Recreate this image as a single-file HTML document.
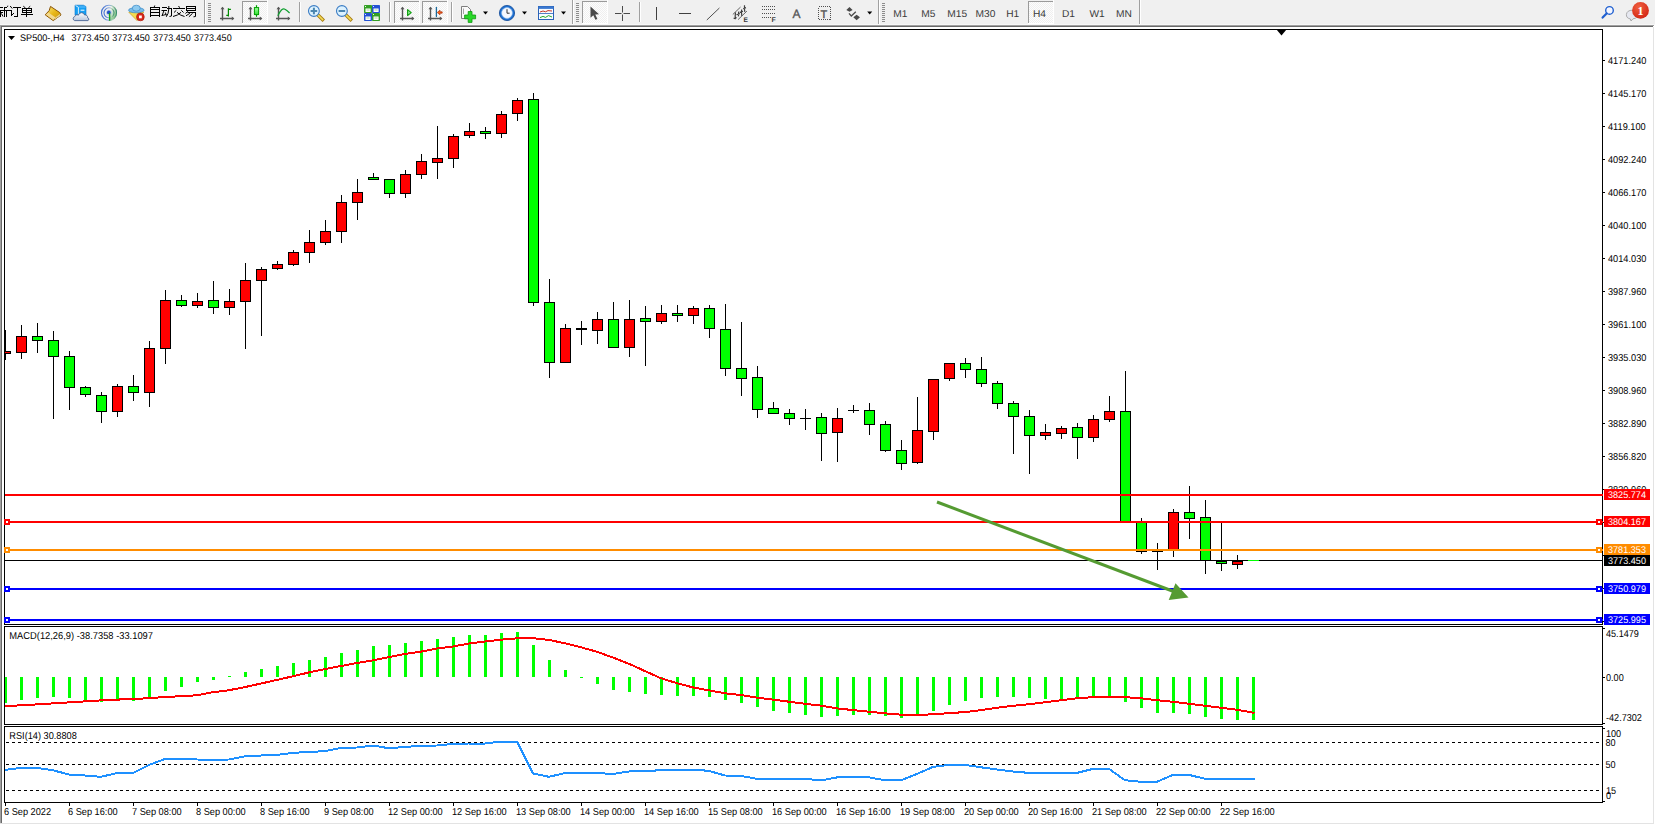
<!DOCTYPE html>
<html><head><meta charset="utf-8"><title>MT4 SP500 H4</title>
<style>
html,body{margin:0;padding:0;background:#f0f0f0;overflow:hidden;}
body{width:1655px;height:825px;font-family:"Liberation Sans",sans-serif;}
svg{display:block;} text{text-rendering:geometricPrecision;}
</style></head><body>
<svg width="1655" height="825" viewBox="0 0 1655 825">
<defs>
<pattern id="chk" width="2" height="2" patternUnits="userSpaceOnUse"><rect width="2" height="2" fill="#fdfdfd"/><rect width="1" height="1" fill="#efefef"/><rect x="1" y="1" width="1" height="1" fill="#efefef"/></pattern>
<linearGradient id="gold" x1="0" y1="0" x2="1" y2="1"><stop offset="0" stop-color="#fae888"/><stop offset="0.5" stop-color="#e8b818"/><stop offset="1" stop-color="#c89010"/></linearGradient>
<linearGradient id="lg" x1="0" y1="0" x2="0" y2="1"><stop offset="0" stop-color="#a0ffa0"/><stop offset="1" stop-color="#30e030"/></linearGradient>
<linearGradient id="cloud" x1="0" y1="0" x2="0" y2="1"><stop offset="0" stop-color="#ffffff"/><stop offset="1" stop-color="#b8c6dc"/></linearGradient>
<radialGradient id="sweep" cx="0" cy="0" r="1"><stop offset="0" stop-color="#ffffff" stop-opacity="0"/><stop offset="1" stop-color="#40b040" stop-opacity="0.6"/></radialGradient>
<linearGradient id="ring" x1="0" y1="0" x2="1" y2="0"><stop offset="0" stop-color="#3c6cd0"/><stop offset="0.5" stop-color="#8aa8e0"/><stop offset="0.75" stop-color="#a8d0b0"/><stop offset="1" stop-color="#3a8a70"/></linearGradient>
<radialGradient id="redg" cx="0.4" cy="0.3" r="0.8"><stop offset="0" stop-color="#f06040"/><stop offset="1" stop-color="#d02010"/></radialGradient>
</defs>
<rect x="0" y="0" width="1655" height="25" fill="#f0f0f0"/>
<rect x="0" y="24" width="1655" height="1" fill="#f7f7f7"/>
<g fill="none" stroke="#000" stroke-width="1" shape-rendering="geometricPrecision">
<path d="M0 7.5 H3 M0 10.5 H4 M0 12.5 H3 M0.5 11 V17 M1.5 13.5 L3 16.5 M4.5 7 V17 M4 7.5 H7 M7 6.5 L8.2 6 M4 10.5 H9 M6.5 11 V17"/>
<path d="M10.2 6 L12.2 8.5 M9 10.5 H12 M11.5 10 V16 M11.5 15.5 L14 13 M13 7.5 H21 M17.5 7.5 V17 M14 16.5 H18"/>
<path d="M23.3 6.2 L25.5 8 M30.2 6.2 L28.3 8 M22.5 8 V13 M31.5 8 V13 M22 8.5 H32 M22 10.5 H32 M22 12.5 H32 M26.5 8 V17 M21 14.5 H33"/>
<path d="M154.8 5.5 L154.2 7 M150.5 7 V17 M159.5 7 V17 M150 7.5 H160 M150 9.5 H160 M150 12.5 H160 M150 15.5 H160"/>
<path d="M162 7.5 H167 M161.5 10.5 H167 M163.8 11 L162 15.8 M161.8 15.5 L166.2 14.5 M165.3 12.5 L166.5 15.5 M167 8.5 H172 M171.5 8.5 V16 M171.5 16 L169.5 16.5 M168.8 6 V9 Q168.5 14 166.3 16.8"/>
<path d="M178.6 6 L179.6 7.8 M173 8.5 H185 M176.3 10.3 L174 12.5 M181.3 10.3 L183.5 12.5 M177 12.3 Q180 15.5 184.5 16.5 M181 12.3 Q178 15.5 173 16.5"/>
<path d="M186.5 6 V11 M195.5 6 V11 M186 6.5 H196 M186 8.5 H196 M186 10.5 H196 M188.3 11 L185.4 13.5 M187.5 12.5 H196 M195.5 12 V16.5 L193.5 16.8 M189.9 13.3 L186 15.8 M192.6 13.3 L188.9 16.8"/>
</g>
<g shape-rendering="geometricPrecision"><path d="M50.5 6.4 L59.8 12.6 L61 15 L53.2 20.6 L45.2 14.8 L49.2 10.6 Z" fill="url(#gold)" stroke="#8a5406" stroke-width="1" stroke-linejoin="round"/><path d="M45.8 14.6 L48.4 12.4 L55.6 17.6 L53.2 20" fill="#f2d890" stroke="none"/><path d="M55.6 17.8 L60.4 14.2 M54.6 19 L60.2 15.2" fill="none" stroke="#e8e0b0" stroke-width="0.8"/></g>
<g shape-rendering="geometricPrecision"><path d="M75 5.2 H83.5 L86 6.6 V15 H75 Z" fill="#16a0f4" stroke="#0c78d0" stroke-width="0.6"/><path d="M75.6 5.6 L78.4 7.2 V14.5" fill="none" stroke="#e8f6ff" stroke-width="0.9"/><path d="M79.2 7 H85.6" stroke="#7cc8ff" stroke-width="0.8"/><path d="M80.6 10.2 H84.4" stroke="#ffffff" stroke-width="1"/><path d="M74.6 20.6 A2.1 2.1 0 0 1 74.7 16.6 A2.4 2.4 0 0 1 78.4 15.2 A3.2 3.2 0 0 1 84.6 15 A2.4 2.4 0 0 1 87.6 17.8 A1.5 1.5 0 0 1 88 20.6 Z" fill="url(#cloud)" stroke="#4a6494" stroke-width="0.9" stroke-linejoin="round"/></g>
<g shape-rendering="geometricPrecision" fill="none"><path d="M109 12.8 L109 20.8 A8 8 0 0 0 117 12.8 A8 8 0 0 0 113 5.9 Z" fill="url(#sweep)" stroke="none"/><circle cx="109" cy="12.8" r="7.5" stroke="url(#ring)" stroke-width="1.1"/><circle cx="109" cy="12.8" r="5" stroke="url(#ring)" stroke-width="1.1"/><circle cx="109" cy="12.8" r="2.6" stroke="#b8cce8" stroke-width="0.9"/><circle cx="108.8" cy="12.4" r="1.9" fill="#2050c8"/><path d="M109.6 12.8 V20.8" stroke="#18a020" stroke-width="1.4"/></g>
<g shape-rendering="geometricPrecision"><path d="M128.8 12.2 L143.8 12 L137 20.6 Z" fill="#f4dc50" stroke="#c8a020" stroke-width="0.7" stroke-linejoin="round"/><ellipse cx="136.3" cy="10.2" rx="7.8" ry="2.6" fill="#78bce8" stroke="#3a8ac8" stroke-width="0.7"/><ellipse cx="136.3" cy="8.2" rx="4" ry="3" fill="#8ccaf0" stroke="#3a8ac8" stroke-width="0.7"/><circle cx="140.4" cy="16.9" r="3.9" fill="#d8281a" stroke="#a81808" stroke-width="0.6"/><rect x="139" y="15.5" width="2.8" height="2.8" fill="#fff"/></g>
<rect x="204" y="0" width="1" height="24" fill="#a0a0a0"/><rect x="205" y="0" width="1" height="24" fill="#ffffff"/>
<rect x="208" y="3" width="3" height="1" fill="#8c8c8c"/>
<rect x="208" y="5" width="3" height="1" fill="#8c8c8c"/>
<rect x="208" y="7" width="3" height="1" fill="#8c8c8c"/>
<rect x="208" y="9" width="3" height="1" fill="#8c8c8c"/>
<rect x="208" y="11" width="3" height="1" fill="#8c8c8c"/>
<rect x="208" y="13" width="3" height="1" fill="#8c8c8c"/>
<rect x="208" y="15" width="3" height="1" fill="#8c8c8c"/>
<rect x="208" y="17" width="3" height="1" fill="#8c8c8c"/>
<rect x="208" y="19" width="3" height="1" fill="#8c8c8c"/>
<rect x="208" y="21" width="3" height="1" fill="#8c8c8c"/>
<g fill="none" stroke="#555" stroke-width="1.4" shape-rendering="geometricPrecision"><path d="M222.5 7.5 V20.5 M220 18.5 H233.5"/></g><path d="M222.5 6.8 l-2 2.5 h4 z M234.3 18.5 l-2.5 -2 v4 z" fill="#555"/>
<path d="M226.3 15.4 H228.4 V8.2 M228.4 9.3 H230.9 M228.4 16.6 V15" fill="none" stroke="#008a00" stroke-width="1.2" shape-rendering="geometricPrecision"/>
<rect x="242" y="1" width="25" height="23" fill="url(#chk)"/>
<rect x="242" y="1" width="25" height="1" fill="#9a9a9a"/><rect x="242" y="1" width="1" height="22" fill="#9a9a9a"/>
<rect x="242" y="23" width="26" height="1" fill="#ffffff"/><rect x="267" y="0" width="1" height="24" fill="#ffffff"/>
<g fill="none" stroke="#555" stroke-width="1.4" shape-rendering="geometricPrecision"><path d="M250.5 7.5 V20.5 M248 18.5 H261.5"/></g><path d="M250.5 6.8 l-2 2.5 h4 z M262.3 18.5 l-2.5 -2 v4 z" fill="#555"/>
<g shape-rendering="geometricPrecision"><path d="M256.5 5.2 V16.8" stroke="#00a000" stroke-width="1.2"/><rect x="254.4" y="7.6" width="4.2" height="7" fill="url(#lg)" stroke="#00a000" stroke-width="1"/></g>
<g fill="none" stroke="#555" stroke-width="1.4" shape-rendering="geometricPrecision"><path d="M278.5 7.5 V20.5 M276 18.5 H289.5"/></g><path d="M278.5 6.8 l-2 2.5 h4 z M290.3 18.5 l-2.5 -2 v4 z" fill="#555"/>
<path d="M277.8 15.8 Q282 7 285 9.3 Q287 10.6 289.6 13" fill="none" stroke="#10a030" stroke-width="1.2" shape-rendering="geometricPrecision"/>
<rect x="299" y="2" width="1" height="20" fill="#a0a0a0"/><rect x="300" y="2" width="1" height="20" fill="#ffffff"/>
<g shape-rendering="geometricPrecision"><path d="M318 15 L322.6 19.6" stroke="#a87c10" stroke-width="3.4" stroke-linecap="square"/><path d="M318 15 L322.6 19.6" stroke="#f4dc58" stroke-width="1.6" stroke-linecap="square"/><circle cx="313.9" cy="11" r="5.4" fill="#dcf2ff" stroke="#3a7cc4" stroke-width="1.1"/><path d="M310.6 11 H317.2" stroke="#4a86b0" stroke-width="2"/><path d="M313.9 7.7 V14.3" stroke="#4a86b0" stroke-width="2"/></g>
<g shape-rendering="geometricPrecision"><path d="M346 15 L350.6 19.6" stroke="#a87c10" stroke-width="3.4" stroke-linecap="square"/><path d="M346 15 L350.6 19.6" stroke="#f4dc58" stroke-width="1.6" stroke-linecap="square"/><circle cx="341.9" cy="11" r="5.4" fill="#dcf2ff" stroke="#3a7cc4" stroke-width="1.1"/><path d="M338.6 11 H345.2" stroke="#4a86b0" stroke-width="2"/></g>
<g shape-rendering="geometricPrecision"><rect x="364" y="5" width="8" height="8" rx="0.8" fill="#34a024"/><rect x="372" y="5" width="8" height="8" rx="0.8" fill="#2452d4"/><rect x="364" y="13" width="8" height="8" rx="0.8" fill="#2452d4"/><rect x="372" y="13" width="8" height="8" rx="0.8" fill="#34a024"/><path d="M365.5 8.5 H370.6 V12 H365.5 Z M373.5 8.5 H378.6 V12 H373.5 Z M365.5 16.5 H370.6 V20 H365.5 Z M373.5 16.5 H378.6 V20 H373.5 Z" fill="#ffffff"/><path d="M366.4 10 H369.6 M374.4 10 H377.6 M366.4 18 H369.6 M374.4 18 H377.6" stroke="#9ad08a" stroke-width="0.8"/><rect x="365" y="6" width="1" height="1" fill="#e0ffe0"/><rect x="373" y="6" width="1" height="1" fill="#e0e8ff"/><rect x="365" y="14" width="1" height="1" fill="#e0e8ff"/><rect x="373" y="14" width="1" height="1" fill="#e0ffe0"/></g>
<rect x="389" y="2" width="1" height="20" fill="#a0a0a0"/><rect x="390" y="2" width="1" height="20" fill="#ffffff"/>
<rect x="394" y="1" width="25" height="23" fill="url(#chk)"/>
<rect x="394" y="1" width="25" height="1" fill="#9a9a9a"/><rect x="394" y="1" width="1" height="22" fill="#9a9a9a"/>
<rect x="394" y="23" width="26" height="1" fill="#ffffff"/><rect x="419" y="0" width="1" height="24" fill="#ffffff"/>
<g fill="none" stroke="#555" stroke-width="1.4" shape-rendering="geometricPrecision"><path d="M402.5 7.5 V20.5 M400 18.5 H413.5"/></g><path d="M402.5 6.8 l-2 2.5 h4 z M414.3 18.5 l-2.5 -2 v4 z" fill="#555"/>
<path d="M407.6 9.6 V15.6 L411.2 12.6 Z" fill="#90f090" stroke="#12a012" stroke-width="1.2" stroke-linejoin="round" shape-rendering="geometricPrecision"/>
<rect x="422" y="1" width="25" height="23" fill="url(#chk)"/>
<rect x="422" y="1" width="25" height="1" fill="#9a9a9a"/><rect x="422" y="1" width="1" height="22" fill="#9a9a9a"/>
<rect x="422" y="23" width="26" height="1" fill="#ffffff"/><rect x="447" y="0" width="1" height="24" fill="#ffffff"/>
<g fill="none" stroke="#555" stroke-width="1.4" shape-rendering="geometricPrecision"><path d="M430.5 7.5 V20.5 M428 18.5 H441.5"/></g><path d="M430.5 6.8 l-2 2.5 h4 z M442.3 18.5 l-2.5 -2 v4 z" fill="#555"/>
<g shape-rendering="geometricPrecision"><path d="M436.4 7.4 V16.6" stroke="#1a6a9a" stroke-width="1.3" stroke-linecap="round"/><path d="M437.3 12.5 L440 10.2 V11.8 H442.2 V13.2 H440 V14.8 Z" fill="#ff6414" stroke="#a02000" stroke-width="0.6" stroke-linejoin="round"/></g>
<rect x="451" y="2" width="1" height="20" fill="#a0a0a0"/><rect x="452" y="2" width="1" height="20" fill="#ffffff"/>
<g shape-rendering="geometricPrecision"><path d="M461.5 6.5 H467.5 L470.5 9.5 V18.5 H461.5 Z" fill="#fafafa" stroke="#707070" stroke-width="0.9"/><path d="M463.5 8.5 V14" stroke="#909090" stroke-width="0.8"/><path d="M468.2 11.5 H472 V15 H475.6 V18.8 H472 V22.4 H468.2 V18.8 H464.6 V15 H468.2 Z" fill="#28d828" stroke="#109810" stroke-width="0.8"/></g>
<path d="M483.0 11.5 h5 l-2.5 3 z" fill="#000"/>
<g shape-rendering="geometricPrecision"><circle cx="507" cy="13" r="7.6" fill="#1d6fd0" stroke="#124a98" stroke-width="0.8"/><circle cx="507" cy="13" r="5.4" fill="#f4f8ff" stroke="#9cc4f0" stroke-width="0.6"/><path d="M507 9.2 V13.2 H509.6" stroke="#303030" stroke-width="1" fill="none"/></g>
<path d="M522.0 11.5 h5 l-2.5 3 z" fill="#000"/>
<g shape-rendering="geometricPrecision"><rect x="538.5" y="6.5" width="15" height="13" fill="#f8fbff" stroke="#2a62b8" stroke-width="1"/><rect x="538.5" y="6.5" width="15" height="2.4" fill="#3a78d0"/><path d="M538.5 13.5 H553.5" stroke="#2a62b8" stroke-width="0.8"/><path d="M540 12 L543 11 L545.5 11.8 L548 10.6 L552 11" stroke="#c02010" stroke-width="0.9" fill="none"/><path d="M540 17.6 L543 16.4 L545.5 17.4 L548.5 15.6 L552 17" stroke="#10a010" stroke-width="0.9" fill="none"/></g>
<path d="M561.0 11.5 h5 l-2.5 3 z" fill="#000"/>
<rect x="572" y="0" width="1" height="24" fill="#a0a0a0"/><rect x="573" y="0" width="1" height="24" fill="#ffffff"/>
<rect x="576" y="3" width="3" height="1" fill="#8c8c8c"/>
<rect x="576" y="5" width="3" height="1" fill="#8c8c8c"/>
<rect x="576" y="7" width="3" height="1" fill="#8c8c8c"/>
<rect x="576" y="9" width="3" height="1" fill="#8c8c8c"/>
<rect x="576" y="11" width="3" height="1" fill="#8c8c8c"/>
<rect x="576" y="13" width="3" height="1" fill="#8c8c8c"/>
<rect x="576" y="15" width="3" height="1" fill="#8c8c8c"/>
<rect x="576" y="17" width="3" height="1" fill="#8c8c8c"/>
<rect x="576" y="19" width="3" height="1" fill="#8c8c8c"/>
<rect x="576" y="21" width="3" height="1" fill="#8c8c8c"/>
<rect x="582" y="1" width="25" height="23" fill="url(#chk)"/>
<rect x="582" y="1" width="25" height="1" fill="#9a9a9a"/><rect x="582" y="1" width="1" height="22" fill="#9a9a9a"/>
<rect x="582" y="23" width="26" height="1" fill="#ffffff"/><rect x="607" y="0" width="1" height="24" fill="#ffffff"/>
<path d="M590.5 6.5 V17.8 L593.3 15.2 L595.4 19.8 L597.4 18.9 L595.3 14.5 L599 14.3 Z" fill="#4a4a4a" shape-rendering="geometricPrecision"/>
<path d="M622.5 6 V21 M615 13.5 H630" stroke="#4a4a4a" stroke-width="1"  shape-rendering="crispEdges"/>
<rect x="621.5" y="12.5" width="2" height="2" fill="#f0f0f0"/>
<rect x="639" y="2" width="1" height="20" fill="#a0a0a0"/><rect x="640" y="2" width="1" height="20" fill="#ffffff"/>
<rect x="656" y="7" width="1" height="13" fill="#404040"/>
<rect x="679" y="13" width="12" height="1" fill="#404040"/>
<path d="M706.8 20 L719.4 8" stroke="#505050" stroke-width="1" shape-rendering="geometricPrecision"/>
<g shape-rendering="geometricPrecision" stroke="#404040" fill="none"><path d="M732.8 14.5 L740.5 7.1 M738.1 19.6 L746.9 11.1" stroke-width="0.8"/><path d="M735.3 19.3 Q735 16 735.5 12.4 M738.5 16.4 Q738.3 14 738.7 11.6 M741.8 15.9 Q741.4 12.5 741.6 9.5 M744.8 11.9 Q744.3 8.5 744.5 5.2 M733.6 18.4 L736.6 17.6 M736.5 14.6 L739.8 13.6 M739.8 12.4 L743 11.2 M743.2 8.6 L746 7.6" stroke-width="1.2"/></g>
<text x="743.6" y="21.9" font-family="Liberation Sans, sans-serif" font-size="6.6" font-weight="bold" fill="#383838">E</text>
<g fill="none" stroke="#505050" stroke-width="1" stroke-dasharray="1 1" shape-rendering="crispEdges"><path d="M762 6.5 H776 M762 9.5 H776 M762 13.5 H776 M762 17.5 H771"/></g>
<text x="771.5" y="22" font-family="Liberation Sans, sans-serif" font-size="7" font-weight="bold" fill="#404040">F</text>
<text x="792.6" y="18" font-family="Liberation Sans, sans-serif" font-size="12" fill="#555" stroke="#555" stroke-width="0.35">A</text>
<rect x="818.5" y="6.5" width="12" height="13" fill="none" stroke="#505050" stroke-width="1" stroke-dasharray="1 1" shape-rendering="crispEdges"/>
<text x="820.6" y="17.6" font-family="Liberation Sans, sans-serif" font-size="11" fill="#555" stroke="#555" stroke-width="0.4">T</text>
<g shape-rendering="geometricPrecision" fill="#4a4a4a"><path d="M846.3 10 L849.5 7 L852.6 10 L849.5 11.8 Z M853.3 17.2 L856.6 14.8 L860 17.2 L856.6 20.2 Z"/><path d="M849 13.4 L851.3 16 L855.8 11.8" fill="none" stroke="#4a4a4a" stroke-width="1.3"/></g>
<path d="M867.2 11.5 h5 l-2.5 3 z" fill="#000"/>
<rect x="878" y="0" width="1" height="24" fill="#a0a0a0"/><rect x="879" y="0" width="1" height="24" fill="#ffffff"/>
<rect x="882" y="3" width="3" height="1" fill="#8c8c8c"/>
<rect x="882" y="5" width="3" height="1" fill="#8c8c8c"/>
<rect x="882" y="7" width="3" height="1" fill="#8c8c8c"/>
<rect x="882" y="9" width="3" height="1" fill="#8c8c8c"/>
<rect x="882" y="11" width="3" height="1" fill="#8c8c8c"/>
<rect x="882" y="13" width="3" height="1" fill="#8c8c8c"/>
<rect x="882" y="15" width="3" height="1" fill="#8c8c8c"/>
<rect x="882" y="17" width="3" height="1" fill="#8c8c8c"/>
<rect x="882" y="19" width="3" height="1" fill="#8c8c8c"/>
<rect x="882" y="21" width="3" height="1" fill="#8c8c8c"/>
<g font-family="Liberation Sans, sans-serif" fill="#3a3a3a"><text x="893.2" y="17" font-size="10" textLength="14.17" lengthAdjust="spacingAndGlyphs">M1</text></g>
<g font-family="Liberation Sans, sans-serif" fill="#3a3a3a"><text x="921.3000000000001" y="17" font-size="10" textLength="14.17" lengthAdjust="spacingAndGlyphs">M5</text></g>
<g font-family="Liberation Sans, sans-serif" fill="#3a3a3a"><text x="947.3000000000001" y="17" font-size="10" textLength="19.84" lengthAdjust="spacingAndGlyphs">M15</text></g>
<g font-family="Liberation Sans, sans-serif" fill="#3a3a3a"><text x="975.5" y="17" font-size="10" textLength="19.84" lengthAdjust="spacingAndGlyphs">M30</text></g>
<g font-family="Liberation Sans, sans-serif" fill="#3a3a3a"><text x="1006.2" y="17" font-size="10" textLength="13.04" lengthAdjust="spacingAndGlyphs">H1</text></g>
<rect x="1028" y="1" width="25" height="23" fill="url(#chk)"/>
<rect x="1028" y="1" width="25" height="1" fill="#9a9a9a"/><rect x="1028" y="1" width="1" height="22" fill="#9a9a9a"/>
<rect x="1028" y="23" width="26" height="1" fill="#ffffff"/><rect x="1053" y="0" width="1" height="24" fill="#ffffff"/>
<g font-family="Liberation Sans, sans-serif" fill="#3a3a3a"><text x="1032.9" y="17" font-size="10" textLength="13.04" lengthAdjust="spacingAndGlyphs">H4</text></g>
<g font-family="Liberation Sans, sans-serif" fill="#3a3a3a"><text x="1061.9" y="17" font-size="10" textLength="13.04" lengthAdjust="spacingAndGlyphs">D1</text></g>
<g font-family="Liberation Sans, sans-serif" fill="#3a3a3a"><text x="1089.4" y="17" font-size="10" textLength="15.30" lengthAdjust="spacingAndGlyphs">W1</text></g>
<g font-family="Liberation Sans, sans-serif" fill="#3a3a3a"><text x="1116.1000000000001" y="17" font-size="10" textLength="15.86" lengthAdjust="spacingAndGlyphs">MN</text></g>
<rect x="1139" y="0" width="1" height="24" fill="#a0a0a0"/><rect x="1140" y="0" width="1" height="24" fill="#ffffff"/>
<g shape-rendering="geometricPrecision"><circle cx="1609.5" cy="10.4" r="3.8" fill="#f4f6ff" stroke="#2060d0" stroke-width="1.4"/><path d="M1606.6 13.4 L1602.6 17.6" stroke="#2060d0" stroke-width="2.2" stroke-linecap="round"/></g>
<g shape-rendering="geometricPrecision"><path d="M1631 21 L1630.4 19 Q1626 18 1626.4 14.4 Q1627 10.2 1632.5 10.2 Q1638 10.4 1638 14.6 Q1637.6 18.4 1633 18.8 Z" fill="#e6e8f0" stroke="#9a9a9a" stroke-width="0.8"/><circle cx="1640.5" cy="10.4" r="8.4" fill="url(#redg)"/></g>
<text x="1640.5" y="14.6" text-anchor="middle" font-family="Liberation Serif, serif" font-size="12" font-weight="bold" fill="#fff">1</text>
<rect x="0" y="25" width="1655" height="800" fill="#ffffff"/>
<rect x="0" y="25" width="1654" height="1" fill="#a0a0a0"/><rect x="0" y="26" width="1653" height="1" fill="#696969"/>
<rect x="0" y="25" width="1" height="799" fill="#a0a0a0"/><rect x="1" y="26" width="1" height="797" fill="#696969"/>
<rect x="1653" y="27" width="1" height="797" fill="#e3e3e3"/><rect x="0" y="823" width="1654" height="1" fill="#e3e3e3"/>
<g fill="#000" shape-rendering="crispEdges">
<rect x="4" y="29" width="1599" height="1"/><rect x="4" y="29" width="1" height="596"/><rect x="1602" y="29" width="1" height="596"/><rect x="4" y="624" width="1599" height="1"/>
<rect x="4" y="626" width="1599" height="1"/><rect x="4" y="626" width="1" height="99"/><rect x="1602" y="626" width="1" height="99"/><rect x="4" y="724" width="1599" height="1"/>
<rect x="4" y="726" width="1599" height="1"/><rect x="4" y="726" width="1" height="77"/><rect x="1602" y="726" width="1" height="77"/><rect x="4" y="802" width="1599" height="1"/>
</g>
<path d="M1276.5 29.5 H1286.5 L1281.5 35.5 Z" fill="#000"/>
<g font-family="Liberation Sans, sans-serif" font-size="9.5" fill="#000">
<rect x="1603" y="60" width="2" height="1"/><text x="1608" y="64" font-size="10.0" textLength="38.37" lengthAdjust="spacingAndGlyphs">4171.240</text>
<rect x="1603" y="93" width="2" height="1"/><text x="1608" y="97" font-size="10.0" textLength="38.37" lengthAdjust="spacingAndGlyphs">4145.170</text>
<rect x="1603" y="126" width="2" height="1"/><text x="1608" y="130" font-size="10.0" textLength="37.69" lengthAdjust="spacingAndGlyphs">4119.100</text>
<rect x="1603" y="159" width="2" height="1"/><text x="1608" y="163" font-size="10.0" textLength="38.37" lengthAdjust="spacingAndGlyphs">4092.240</text>
<rect x="1603" y="192" width="2" height="1"/><text x="1608" y="196" font-size="10.0" textLength="38.37" lengthAdjust="spacingAndGlyphs">4066.170</text>
<rect x="1603" y="225" width="2" height="1"/><text x="1608" y="229" font-size="10.0" textLength="38.37" lengthAdjust="spacingAndGlyphs">4040.100</text>
<rect x="1603" y="258" width="2" height="1"/><text x="1608" y="262" font-size="10.0" textLength="38.37" lengthAdjust="spacingAndGlyphs">4014.030</text>
<rect x="1603" y="291" width="2" height="1"/><text x="1608" y="295" font-size="10.0" textLength="38.37" lengthAdjust="spacingAndGlyphs">3987.960</text>
<rect x="1603" y="324" width="2" height="1"/><text x="1608" y="328" font-size="10.0" textLength="38.37" lengthAdjust="spacingAndGlyphs">3961.100</text>
<rect x="1603" y="357" width="2" height="1"/><text x="1608" y="361" font-size="10.0" textLength="38.37" lengthAdjust="spacingAndGlyphs">3935.030</text>
<rect x="1603" y="390" width="2" height="1"/><text x="1608" y="394" font-size="10.0" textLength="38.37" lengthAdjust="spacingAndGlyphs">3908.960</text>
<rect x="1603" y="423" width="2" height="1"/><text x="1608" y="427" font-size="10.0" textLength="38.37" lengthAdjust="spacingAndGlyphs">3882.890</text>
<rect x="1603" y="456" width="2" height="1"/><text x="1608" y="460" font-size="10.0" textLength="38.37" lengthAdjust="spacingAndGlyphs">3856.820</text>
<rect x="1603" y="489" width="2" height="1"/><text x="1608" y="493" font-size="10.0" textLength="38.37" lengthAdjust="spacingAndGlyphs">3830.960</text>
<rect x="1603" y="522" width="2" height="1"/>
<rect x="1603" y="555" width="2" height="1"/>
<rect x="1603" y="588" width="2" height="1"/>
<rect x="1603" y="621" width="2" height="1"/>
</g>
<clipPath id="mc"><rect x="5" y="30" width="1597" height="594"/></clipPath>
<g clip-path="url(#mc)" shape-rendering="crispEdges" fill="#000">
<rect x="5" y="330" width="1" height="30"/>
<rect x="0" y="351" width="11" height="3"/>
<rect x="1" y="352" width="9" height="1" fill="#ff0000"/>
<rect x="21" y="325" width="1" height="34"/>
<rect x="16" y="336" width="11" height="17"/>
<rect x="17" y="337" width="9" height="15" fill="#ff0000"/>
<rect x="37" y="323" width="1" height="30"/>
<rect x="32" y="336" width="11" height="5"/>
<rect x="33" y="337" width="9" height="3" fill="#00ff00"/>
<rect x="53" y="331" width="1" height="88"/>
<rect x="48" y="340" width="11" height="17"/>
<rect x="49" y="341" width="9" height="15" fill="#00ff00"/>
<rect x="69" y="351" width="1" height="59"/>
<rect x="64" y="356" width="11" height="32"/>
<rect x="65" y="357" width="9" height="30" fill="#00ff00"/>
<rect x="85" y="386" width="1" height="11"/>
<rect x="80" y="387" width="11" height="8"/>
<rect x="81" y="388" width="9" height="6" fill="#00ff00"/>
<rect x="101" y="392" width="1" height="31"/>
<rect x="96" y="395" width="11" height="17"/>
<rect x="97" y="396" width="9" height="15" fill="#00ff00"/>
<rect x="117" y="384" width="1" height="33"/>
<rect x="112" y="386" width="11" height="26"/>
<rect x="113" y="387" width="9" height="24" fill="#ff0000"/>
<rect x="133" y="375" width="1" height="26"/>
<rect x="128" y="386" width="11" height="7"/>
<rect x="129" y="387" width="9" height="5" fill="#00ff00"/>
<rect x="149" y="341" width="1" height="66"/>
<rect x="144" y="348" width="11" height="45"/>
<rect x="145" y="349" width="9" height="43" fill="#ff0000"/>
<rect x="165" y="290" width="1" height="74"/>
<rect x="160" y="300" width="11" height="49"/>
<rect x="161" y="301" width="9" height="47" fill="#ff0000"/>
<rect x="181" y="295" width="1" height="12"/>
<rect x="176" y="300" width="11" height="6"/>
<rect x="177" y="301" width="9" height="4" fill="#00ff00"/>
<rect x="197" y="293" width="1" height="15"/>
<rect x="192" y="301" width="11" height="5"/>
<rect x="193" y="302" width="9" height="3" fill="#ff0000"/>
<rect x="213" y="281" width="1" height="33"/>
<rect x="208" y="300" width="11" height="8"/>
<rect x="209" y="301" width="9" height="6" fill="#00ff00"/>
<rect x="229" y="289" width="1" height="26"/>
<rect x="224" y="301" width="11" height="7"/>
<rect x="225" y="302" width="9" height="5" fill="#ff0000"/>
<rect x="245" y="263" width="1" height="86"/>
<rect x="240" y="280" width="11" height="22"/>
<rect x="241" y="281" width="9" height="20" fill="#ff0000"/>
<rect x="261" y="267" width="1" height="69"/>
<rect x="256" y="269" width="11" height="12"/>
<rect x="257" y="270" width="9" height="10" fill="#ff0000"/>
<rect x="277" y="261" width="1" height="9"/>
<rect x="272" y="264" width="11" height="5"/>
<rect x="273" y="265" width="9" height="3" fill="#ff0000"/>
<rect x="293" y="250" width="1" height="16"/>
<rect x="288" y="252" width="11" height="13"/>
<rect x="289" y="253" width="9" height="11" fill="#ff0000"/>
<rect x="309" y="230" width="1" height="33"/>
<rect x="304" y="242" width="11" height="11"/>
<rect x="305" y="243" width="9" height="9" fill="#ff0000"/>
<rect x="325" y="220" width="1" height="25"/>
<rect x="320" y="231" width="11" height="12"/>
<rect x="321" y="232" width="9" height="10" fill="#ff0000"/>
<rect x="341" y="195" width="1" height="48"/>
<rect x="336" y="202" width="11" height="30"/>
<rect x="337" y="203" width="9" height="28" fill="#ff0000"/>
<rect x="357" y="179" width="1" height="41"/>
<rect x="352" y="192" width="11" height="11"/>
<rect x="353" y="193" width="9" height="9" fill="#ff0000"/>
<rect x="373" y="173" width="1" height="7"/>
<rect x="368" y="177" width="11" height="3"/>
<rect x="369" y="178" width="9" height="1" fill="#00ff00"/>
<rect x="389" y="179" width="1" height="19"/>
<rect x="384" y="179" width="11" height="15"/>
<rect x="385" y="180" width="9" height="13" fill="#00ff00"/>
<rect x="405" y="170" width="1" height="28"/>
<rect x="400" y="174" width="11" height="20"/>
<rect x="401" y="175" width="9" height="18" fill="#ff0000"/>
<rect x="421" y="154" width="1" height="25"/>
<rect x="416" y="161" width="11" height="14"/>
<rect x="417" y="162" width="9" height="12" fill="#ff0000"/>
<rect x="437" y="126" width="1" height="53"/>
<rect x="432" y="158" width="11" height="5"/>
<rect x="433" y="159" width="9" height="3" fill="#ff0000"/>
<rect x="453" y="134" width="1" height="34"/>
<rect x="448" y="136" width="11" height="23"/>
<rect x="449" y="137" width="9" height="21" fill="#ff0000"/>
<rect x="469" y="123" width="1" height="15"/>
<rect x="464" y="131" width="11" height="5"/>
<rect x="465" y="132" width="9" height="3" fill="#ff0000"/>
<rect x="485" y="127" width="1" height="12"/>
<rect x="480" y="131" width="11" height="3"/>
<rect x="481" y="132" width="9" height="1" fill="#00ff00"/>
<rect x="501" y="111" width="1" height="27"/>
<rect x="496" y="114" width="11" height="20"/>
<rect x="497" y="115" width="9" height="18" fill="#ff0000"/>
<rect x="517" y="98" width="1" height="23"/>
<rect x="512" y="100" width="11" height="14"/>
<rect x="513" y="101" width="9" height="12" fill="#ff0000"/>
<rect x="533" y="93" width="1" height="213"/>
<rect x="528" y="99" width="11" height="204"/>
<rect x="529" y="100" width="9" height="202" fill="#00ff00"/>
<rect x="549" y="279" width="1" height="99"/>
<rect x="544" y="302" width="11" height="61"/>
<rect x="545" y="303" width="9" height="59" fill="#00ff00"/>
<rect x="565" y="324" width="1" height="39"/>
<rect x="560" y="328" width="11" height="35"/>
<rect x="561" y="329" width="9" height="33" fill="#ff0000"/>
<rect x="581" y="321" width="1" height="24"/>
<rect x="576" y="328" width="11" height="2"/>
<rect x="597" y="312" width="1" height="32"/>
<rect x="592" y="319" width="11" height="12"/>
<rect x="593" y="320" width="9" height="10" fill="#ff0000"/>
<rect x="613" y="302" width="1" height="46"/>
<rect x="608" y="319" width="11" height="29"/>
<rect x="609" y="320" width="9" height="27" fill="#00ff00"/>
<rect x="629" y="300" width="1" height="57"/>
<rect x="624" y="319" width="11" height="29"/>
<rect x="625" y="320" width="9" height="27" fill="#ff0000"/>
<rect x="645" y="306" width="1" height="60"/>
<rect x="640" y="318" width="11" height="4"/>
<rect x="641" y="319" width="9" height="2" fill="#00ff00"/>
<rect x="661" y="305" width="1" height="19"/>
<rect x="656" y="313" width="11" height="9"/>
<rect x="657" y="314" width="9" height="7" fill="#ff0000"/>
<rect x="677" y="305" width="1" height="17"/>
<rect x="672" y="313" width="11" height="3"/>
<rect x="673" y="314" width="9" height="1" fill="#00ff00"/>
<rect x="693" y="306" width="1" height="18"/>
<rect x="688" y="308" width="11" height="8"/>
<rect x="689" y="309" width="9" height="6" fill="#ff0000"/>
<rect x="709" y="305" width="1" height="33"/>
<rect x="704" y="308" width="11" height="21"/>
<rect x="705" y="309" width="9" height="19" fill="#00ff00"/>
<rect x="725" y="304" width="1" height="72"/>
<rect x="720" y="329" width="11" height="40"/>
<rect x="721" y="330" width="9" height="38" fill="#00ff00"/>
<rect x="741" y="322" width="1" height="74"/>
<rect x="736" y="368" width="11" height="11"/>
<rect x="737" y="369" width="9" height="9" fill="#00ff00"/>
<rect x="757" y="366" width="1" height="52"/>
<rect x="752" y="377" width="11" height="33"/>
<rect x="753" y="378" width="9" height="31" fill="#00ff00"/>
<rect x="773" y="402" width="1" height="12"/>
<rect x="768" y="408" width="11" height="6"/>
<rect x="769" y="409" width="9" height="4" fill="#00ff00"/>
<rect x="789" y="409" width="1" height="16"/>
<rect x="784" y="413" width="11" height="6"/>
<rect x="785" y="414" width="9" height="4" fill="#00ff00"/>
<rect x="805" y="409" width="1" height="21"/>
<rect x="800" y="418" width="11" height="1"/>
<rect x="821" y="413" width="1" height="48"/>
<rect x="816" y="417" width="11" height="17"/>
<rect x="817" y="418" width="9" height="15" fill="#00ff00"/>
<rect x="837" y="408" width="1" height="54"/>
<rect x="832" y="418" width="11" height="15"/>
<rect x="833" y="419" width="9" height="13" fill="#ff0000"/>
<rect x="853" y="405" width="1" height="8"/>
<rect x="848" y="410" width="11" height="1"/>
<rect x="869" y="403" width="1" height="32"/>
<rect x="864" y="410" width="11" height="15"/>
<rect x="865" y="411" width="9" height="13" fill="#00ff00"/>
<rect x="885" y="421" width="1" height="31"/>
<rect x="880" y="424" width="11" height="27"/>
<rect x="881" y="425" width="9" height="25" fill="#00ff00"/>
<rect x="901" y="440" width="1" height="30"/>
<rect x="896" y="450" width="11" height="14"/>
<rect x="897" y="451" width="9" height="12" fill="#00ff00"/>
<rect x="917" y="397" width="1" height="67"/>
<rect x="912" y="430" width="11" height="33"/>
<rect x="913" y="431" width="9" height="31" fill="#ff0000"/>
<rect x="933" y="379" width="1" height="61"/>
<rect x="928" y="379" width="11" height="53"/>
<rect x="929" y="380" width="9" height="51" fill="#ff0000"/>
<rect x="949" y="363" width="1" height="18"/>
<rect x="944" y="363" width="11" height="16"/>
<rect x="945" y="364" width="9" height="14" fill="#ff0000"/>
<rect x="965" y="358" width="1" height="20"/>
<rect x="960" y="363" width="11" height="7"/>
<rect x="961" y="364" width="9" height="5" fill="#00ff00"/>
<rect x="981" y="357" width="1" height="30"/>
<rect x="976" y="369" width="11" height="15"/>
<rect x="977" y="370" width="9" height="13" fill="#00ff00"/>
<rect x="997" y="381" width="1" height="28"/>
<rect x="992" y="383" width="11" height="21"/>
<rect x="993" y="384" width="9" height="19" fill="#00ff00"/>
<rect x="1013" y="401" width="1" height="53"/>
<rect x="1008" y="403" width="11" height="14"/>
<rect x="1009" y="404" width="9" height="12" fill="#00ff00"/>
<rect x="1029" y="410" width="1" height="64"/>
<rect x="1024" y="416" width="11" height="20"/>
<rect x="1025" y="417" width="9" height="18" fill="#00ff00"/>
<rect x="1045" y="424" width="1" height="16"/>
<rect x="1040" y="432" width="11" height="4"/>
<rect x="1041" y="433" width="9" height="2" fill="#ff0000"/>
<rect x="1061" y="426" width="1" height="13"/>
<rect x="1056" y="428" width="11" height="6"/>
<rect x="1057" y="429" width="9" height="4" fill="#ff0000"/>
<rect x="1077" y="423" width="1" height="36"/>
<rect x="1072" y="427" width="11" height="11"/>
<rect x="1073" y="428" width="9" height="9" fill="#00ff00"/>
<rect x="1093" y="415" width="1" height="27"/>
<rect x="1088" y="419" width="11" height="19"/>
<rect x="1089" y="420" width="9" height="17" fill="#ff0000"/>
<rect x="1109" y="396" width="1" height="26"/>
<rect x="1104" y="411" width="11" height="9"/>
<rect x="1105" y="412" width="9" height="7" fill="#ff0000"/>
<rect x="1125" y="371" width="1" height="151"/>
<rect x="1120" y="411" width="11" height="111"/>
<rect x="1121" y="412" width="9" height="109" fill="#00ff00"/>
<rect x="1141" y="518" width="1" height="36"/>
<rect x="1136" y="521" width="11" height="31"/>
<rect x="1137" y="522" width="9" height="29" fill="#00ff00"/>
<rect x="1157" y="543" width="1" height="27"/>
<rect x="1152" y="550" width="11" height="2"/>
<rect x="1173" y="509" width="1" height="48"/>
<rect x="1168" y="512" width="11" height="38"/>
<rect x="1169" y="513" width="9" height="36" fill="#ff0000"/>
<rect x="1189" y="486" width="1" height="53"/>
<rect x="1184" y="512" width="11" height="7"/>
<rect x="1185" y="513" width="9" height="5" fill="#00ff00"/>
<rect x="1205" y="500" width="1" height="74"/>
<rect x="1200" y="517" width="11" height="44"/>
<rect x="1201" y="518" width="9" height="42" fill="#00ff00"/>
<rect x="1221" y="523" width="1" height="48"/>
<rect x="1216" y="561" width="11" height="3"/>
<rect x="1217" y="562" width="9" height="1" fill="#00ff00"/>
<rect x="1237" y="555" width="1" height="14"/>
<rect x="1232" y="561" width="11" height="4"/>
<rect x="1233" y="562" width="9" height="2" fill="#ff0000"/>
<rect x="1248" y="560" width="11" height="1" fill="#00ff00"/>
</g>
<g shape-rendering="crispEdges">
<rect x="5" y="494" width="1598" height="2" fill="#ff0000"/>
<rect x="5" y="521" width="1598" height="2" fill="#ff0000"/>
<rect x="5" y="549" width="1598" height="2" fill="#ff8c00"/>
<rect x="5" y="560" width="1243" height="1" fill="#000"/><rect x="1259" y="560" width="343" height="1" fill="#000"/>
<rect x="5" y="588" width="1598" height="2" fill="#0000ff"/>
<rect x="5" y="619" width="1598" height="2" fill="#0000ff"/>
<rect x="4" y="519" width="6" height="6" fill="#ff0000"/><rect x="6" y="521" width="2" height="2" fill="#fff"/>
<rect x="1596" y="519" width="6" height="6" fill="#ff0000"/><rect x="1598" y="521" width="2" height="2" fill="#fff"/>
<rect x="4" y="547" width="6" height="6" fill="#ff8c00"/><rect x="6" y="549" width="2" height="2" fill="#fff"/>
<rect x="1596" y="547" width="6" height="6" fill="#ff8c00"/><rect x="1598" y="549" width="2" height="2" fill="#fff"/>
<rect x="4" y="586" width="6" height="6" fill="#0000ff"/><rect x="6" y="588" width="2" height="2" fill="#fff"/>
<rect x="1596" y="586" width="6" height="6" fill="#0000ff"/><rect x="1598" y="588" width="2" height="2" fill="#fff"/>
<rect x="4" y="617" width="6" height="6" fill="#0000ff"/><rect x="6" y="619" width="2" height="2" fill="#fff"/>
<rect x="1596" y="617" width="6" height="6" fill="#0000ff"/><rect x="1598" y="619" width="2" height="2" fill="#fff"/>
</g>
<g shape-rendering="geometricPrecision"><path d="M937 502 L1175 592" stroke="#559b32" stroke-width="3" fill="none"/><path d="M1188.5 597.5 L1175.5 583.3 L1168.7 600 Z" fill="#559b32"/></g>
<g font-family="Liberation Sans, sans-serif" font-size="9" shape-rendering="crispEdges">
<rect x="1604" y="489" width="46" height="11" fill="#ff0000"/><text x="1608" y="498" font-size="9.6" textLength="37.96" lengthAdjust="spacingAndGlyphs" fill="#fff">3825.774</text>
<rect x="1604" y="516" width="46" height="11" fill="#ff0000"/><text x="1608" y="525" font-size="9.6" textLength="37.96" lengthAdjust="spacingAndGlyphs" fill="#fff">3804.167</text>
<rect x="1604" y="544" width="46" height="11" fill="#ff8c00"/><text x="1608" y="553" font-size="9.6" textLength="37.96" lengthAdjust="spacingAndGlyphs" fill="#fff">3781.353</text>
<rect x="1604" y="555" width="46" height="11" fill="#000"/><text x="1608" y="564" font-size="9.6" textLength="37.96" lengthAdjust="spacingAndGlyphs" fill="#fff">3773.450</text>
<rect x="1604" y="583" width="46" height="11" fill="#0000ff"/><text x="1608" y="592" font-size="9.6" textLength="37.96" lengthAdjust="spacingAndGlyphs" fill="#fff">3750.979</text>
<rect x="1604" y="614" width="46" height="11" fill="#0000ff"/><text x="1608" y="623" font-size="9.6" textLength="37.96" lengthAdjust="spacingAndGlyphs" fill="#fff">3725.995</text>
</g>
<path d="M8 36 H15 L11.5 40 Z" fill="#000"/>
<g font-family="Liberation Sans, sans-serif" fill="#000"><text x="20" y="41" font-size="9.6" textLength="44.52" lengthAdjust="spacingAndGlyphs">SP500-,H4</text><text x="71.6" y="41" font-size="9.6" textLength="37.54" lengthAdjust="spacingAndGlyphs">3773.450</text><text x="112.3" y="41" font-size="9.6" textLength="37.54" lengthAdjust="spacingAndGlyphs">3773.450</text><text x="153.2" y="41" font-size="9.6" textLength="37.54" lengthAdjust="spacingAndGlyphs">3773.450</text><text x="194.1" y="41" font-size="9.6" textLength="37.54" lengthAdjust="spacingAndGlyphs">3773.450</text></g>
<g font-family="Liberation Sans, sans-serif" fill="#000"><text x="9.3" y="639" font-size="10.0" textLength="143.67" lengthAdjust="spacingAndGlyphs">MACD(12,26,9) -38.7358 -33.1097</text></g>
<clipPath id="mcd"><rect x="5" y="627" width="1597" height="97"/></clipPath>
<g fill="#00ff00" shape-rendering="crispEdges" clip-path="url(#mcd)"><rect x="4" y="677" width="3" height="26"/>
<rect x="20" y="677" width="3" height="23"/>
<rect x="36" y="677" width="3" height="21"/>
<rect x="52" y="677" width="3" height="20"/>
<rect x="68" y="677" width="3" height="21"/>
<rect x="84" y="677" width="3" height="23"/>
<rect x="100" y="677" width="3" height="25"/>
<rect x="116" y="677" width="3" height="24"/>
<rect x="132" y="677" width="3" height="24"/>
<rect x="148" y="677" width="3" height="20"/>
<rect x="164" y="677" width="3" height="14"/>
<rect x="180" y="677" width="3" height="10"/>
<rect x="196" y="677" width="3" height="5"/>
<rect x="212" y="677" width="3" height="3"/>
<rect x="228" y="676" width="3" height="1"/>
<rect x="244" y="672" width="3" height="5"/>
<rect x="260" y="669" width="3" height="8"/>
<rect x="276" y="666" width="3" height="11"/>
<rect x="292" y="663" width="3" height="14"/>
<rect x="308" y="660" width="3" height="17"/>
<rect x="324" y="657" width="3" height="20"/>
<rect x="340" y="653" width="3" height="24"/>
<rect x="356" y="650" width="3" height="27"/>
<rect x="372" y="646" width="3" height="31"/>
<rect x="388" y="645" width="3" height="32"/>
<rect x="404" y="643" width="3" height="34"/>
<rect x="420" y="641" width="3" height="36"/>
<rect x="436" y="639" width="3" height="38"/>
<rect x="452" y="637" width="3" height="40"/>
<rect x="468" y="635" width="3" height="42"/>
<rect x="484" y="635" width="3" height="42"/>
<rect x="500" y="633" width="3" height="44"/>
<rect x="516" y="632" width="3" height="45"/>
<rect x="532" y="645" width="3" height="32"/>
<rect x="548" y="660" width="3" height="17"/>
<rect x="564" y="670" width="3" height="7"/>
<rect x="580" y="677" width="3" height="1"/>
<rect x="596" y="677" width="3" height="7"/>
<rect x="612" y="677" width="3" height="13"/>
<rect x="628" y="677" width="3" height="15"/>
<rect x="644" y="677" width="3" height="17"/>
<rect x="660" y="677" width="3" height="18"/>
<rect x="676" y="677" width="3" height="19"/>
<rect x="692" y="677" width="3" height="19"/>
<rect x="708" y="677" width="3" height="20"/>
<rect x="724" y="677" width="3" height="23"/>
<rect x="740" y="677" width="3" height="26"/>
<rect x="756" y="677" width="3" height="30"/>
<rect x="772" y="677" width="3" height="34"/>
<rect x="788" y="677" width="3" height="36"/>
<rect x="804" y="677" width="3" height="38"/>
<rect x="820" y="677" width="3" height="40"/>
<rect x="836" y="677" width="3" height="39"/>
<rect x="852" y="677" width="3" height="38"/>
<rect x="868" y="677" width="3" height="38"/>
<rect x="884" y="677" width="3" height="39"/>
<rect x="900" y="677" width="3" height="41"/>
<rect x="916" y="677" width="3" height="37"/>
<rect x="932" y="677" width="3" height="34"/>
<rect x="948" y="677" width="3" height="28"/>
<rect x="964" y="677" width="3" height="24"/>
<rect x="980" y="677" width="3" height="21"/>
<rect x="996" y="677" width="3" height="20"/>
<rect x="1012" y="677" width="3" height="20"/>
<rect x="1028" y="677" width="3" height="21"/>
<rect x="1044" y="677" width="3" height="22"/>
<rect x="1060" y="677" width="3" height="22"/>
<rect x="1076" y="677" width="3" height="21"/>
<rect x="1092" y="677" width="3" height="20"/>
<rect x="1108" y="677" width="3" height="19"/>
<rect x="1124" y="677" width="3" height="25"/>
<rect x="1140" y="677" width="3" height="31"/>
<rect x="1156" y="677" width="3" height="36"/>
<rect x="1172" y="677" width="3" height="36"/>
<rect x="1188" y="677" width="3" height="37"/>
<rect x="1204" y="677" width="3" height="40"/>
<rect x="1220" y="677" width="3" height="42"/>
<rect x="1236" y="677" width="3" height="43"/>
<rect x="1252" y="677" width="3" height="43"/></g>
<polyline points="5,705.8 21,705.4 37,704.4 53,703.4 69,702.4 85,701.4 101,700.4 117,699.6 133,699.0 149,698.2 165,697.0 181,696.2 197,695.3 213,692.2 229,690.2 245,687.1 261,683.5 277,679.9 293,676.3 309,672.4 325,669.0 341,666.0 357,663.0 373,660.4 389,657.0 405,654.0 421,651.6 437,648.5 453,646.5 469,643.5 485,641.5 501,639.7 517,638.3 533,638.2 549,639.9 565,643.3 581,647.3 597,651.8 613,657.6 629,663.8 645,671.1 661,678.3 677,683.2 693,687.4 709,690.4 725,693.3 741,695.1 757,697.6 773,699.6 789,701.7 805,703.8 821,705.6 837,708.4 853,710.1 869,711.7 885,713.3 901,714.7 917,715.0 933,714.3 949,713.1 965,712.1 981,710.1 997,707.8 1013,705.8 1029,704.2 1045,702.2 1061,700.2 1077,698.2 1093,697.2 1109,696.8 1125,697.2 1141,698.2 1157,700.2 1173,701.8 1189,703.8 1205,705.8 1221,707.8 1237,709.7 1253,712.7 1254.5,713.0" fill="none" stroke="#ff0000" stroke-width="2" stroke-linejoin="round" shape-rendering="crispEdges"/>
<g font-family="Liberation Sans, sans-serif" fill="#000"><rect x="1603" y="628" width="2" height="1"/><text x="1606" y="637" font-size="10.0" textLength="32.90" lengthAdjust="spacingAndGlyphs">45.1479</text><rect x="1603" y="677" width="2" height="1"/><text x="1606" y="681" font-size="10.0" textLength="17.71" lengthAdjust="spacingAndGlyphs">0.00</text><rect x="1603" y="723" width="2" height="1"/><text x="1606" y="721" font-size="10.0" textLength="35.93" lengthAdjust="spacingAndGlyphs">-42.7302</text></g>
<g font-family="Liberation Sans, sans-serif" fill="#000"><text x="9.3" y="739" font-size="10.0" textLength="67.51" lengthAdjust="spacingAndGlyphs">RSI(14) 30.8808</text></g>
<g stroke="#000" stroke-width="1" stroke-dasharray="3 3" shape-rendering="crispEdges"><path d="M6 742.5 H1600 M6 764.5 H1600 M6 790.5 H1600"/></g>
<polyline points="5,769.9 21,767.9 37,767.9 53,770.3 69,774.5 85,775.5 101,776.8 117,773.0 133,772.9 149,764.9 165,758.9 181,758.9 197,759.5 213,759.9 229,759.5 245,756.3 261,755.5 277,754.9 293,752.9 309,751.9 325,751.2 341,747.9 357,747.5 373,745.5 389,748.3 405,746.9 421,745.9 437,745.5 453,743.9 469,743.5 485,743.5 501,741.6 517,741.6 533,773.5 549,776.8 565,773.1 581,773.1 597,773.1 613,773.9 629,771.5 645,770.9 661,770.3 677,769.5 693,769.5 709,770.9 725,775.5 741,775.9 757,778.8 773,778.8 789,778.8 805,778.8 821,780.4 837,777.4 853,776.8 869,777.4 885,780.2 901,780.4 917,773.9 933,766.9 949,764.9 965,764.9 981,767.3 997,769.5 1013,771.5 1029,772.9 1045,772.9 1061,772.9 1077,772.9 1093,768.9 1109,768.9 1125,780.2 1141,781.8 1157,781.8 1173,774.9 1189,774.9 1205,778.8 1221,778.8 1237,778.8 1253,778.8 1254.5,778.8" fill="none" stroke="#1e90ff" stroke-width="2" stroke-linejoin="round" shape-rendering="crispEdges"/>
<g font-family="Liberation Sans, sans-serif" fill="#000"><rect x="1603" y="728" width="2" height="1"/><text x="1606" y="737" font-size="10.0" textLength="15.18" lengthAdjust="spacingAndGlyphs">100</text><text x="1605.5" y="746" font-size="10.0" textLength="10.12" lengthAdjust="spacingAndGlyphs">80</text><text x="1605.5" y="768" font-size="10.0" textLength="10.12" lengthAdjust="spacingAndGlyphs">50</text><text x="1606" y="794" font-size="10.0" textLength="10.12" lengthAdjust="spacingAndGlyphs">15</text><text x="1606" y="799" font-size="10.0" textLength="5.06" lengthAdjust="spacingAndGlyphs">0</text><rect x="1603" y="801" width="2" height="1"/></g>
<g font-family="Liberation Sans, sans-serif" font-size="9.5" fill="#000">
<rect x="5" y="803" width="1" height="3"/><text x="4" y="815" font-size="10.0" textLength="47.07" lengthAdjust="spacingAndGlyphs">6 Sep 2022</text>
<rect x="69" y="803" width="1" height="3"/><text x="68" y="815" font-size="10.0" textLength="49.62" lengthAdjust="spacingAndGlyphs">6 Sep 16:00</text>
<rect x="133" y="803" width="1" height="3"/><text x="132" y="815" font-size="10.0" textLength="49.62" lengthAdjust="spacingAndGlyphs">7 Sep 08:00</text>
<rect x="197" y="803" width="1" height="3"/><text x="196" y="815" font-size="10.0" textLength="49.62" lengthAdjust="spacingAndGlyphs">8 Sep 00:00</text>
<rect x="261" y="803" width="1" height="3"/><text x="260" y="815" font-size="10.0" textLength="49.62" lengthAdjust="spacingAndGlyphs">8 Sep 16:00</text>
<rect x="325" y="803" width="1" height="3"/><text x="324" y="815" font-size="10.0" textLength="49.62" lengthAdjust="spacingAndGlyphs">9 Sep 08:00</text>
<rect x="389" y="803" width="1" height="3"/><text x="388" y="815" font-size="10.0" textLength="54.74" lengthAdjust="spacingAndGlyphs">12 Sep 00:00</text>
<rect x="453" y="803" width="1" height="3"/><text x="452" y="815" font-size="10.0" textLength="54.74" lengthAdjust="spacingAndGlyphs">12 Sep 16:00</text>
<rect x="517" y="803" width="1" height="3"/><text x="516" y="815" font-size="10.0" textLength="54.74" lengthAdjust="spacingAndGlyphs">13 Sep 08:00</text>
<rect x="581" y="803" width="1" height="3"/><text x="580" y="815" font-size="10.0" textLength="54.74" lengthAdjust="spacingAndGlyphs">14 Sep 00:00</text>
<rect x="645" y="803" width="1" height="3"/><text x="644" y="815" font-size="10.0" textLength="54.74" lengthAdjust="spacingAndGlyphs">14 Sep 16:00</text>
<rect x="709" y="803" width="1" height="3"/><text x="708" y="815" font-size="10.0" textLength="54.74" lengthAdjust="spacingAndGlyphs">15 Sep 08:00</text>
<rect x="773" y="803" width="1" height="3"/><text x="772" y="815" font-size="10.0" textLength="54.74" lengthAdjust="spacingAndGlyphs">16 Sep 00:00</text>
<rect x="837" y="803" width="1" height="3"/><text x="836" y="815" font-size="10.0" textLength="54.74" lengthAdjust="spacingAndGlyphs">16 Sep 16:00</text>
<rect x="901" y="803" width="1" height="3"/><text x="900" y="815" font-size="10.0" textLength="54.74" lengthAdjust="spacingAndGlyphs">19 Sep 08:00</text>
<rect x="965" y="803" width="1" height="3"/><text x="964" y="815" font-size="10.0" textLength="54.74" lengthAdjust="spacingAndGlyphs">20 Sep 00:00</text>
<rect x="1029" y="803" width="1" height="3"/><text x="1028" y="815" font-size="10.0" textLength="54.74" lengthAdjust="spacingAndGlyphs">20 Sep 16:00</text>
<rect x="1093" y="803" width="1" height="3"/><text x="1092" y="815" font-size="10.0" textLength="54.74" lengthAdjust="spacingAndGlyphs">21 Sep 08:00</text>
<rect x="1157" y="803" width="1" height="3"/><text x="1156" y="815" font-size="10.0" textLength="54.74" lengthAdjust="spacingAndGlyphs">22 Sep 00:00</text>
<rect x="1221" y="803" width="1" height="3"/><text x="1220" y="815" font-size="10.0" textLength="54.74" lengthAdjust="spacingAndGlyphs">22 Sep 16:00</text>
</g>
</svg>
</body></html>
